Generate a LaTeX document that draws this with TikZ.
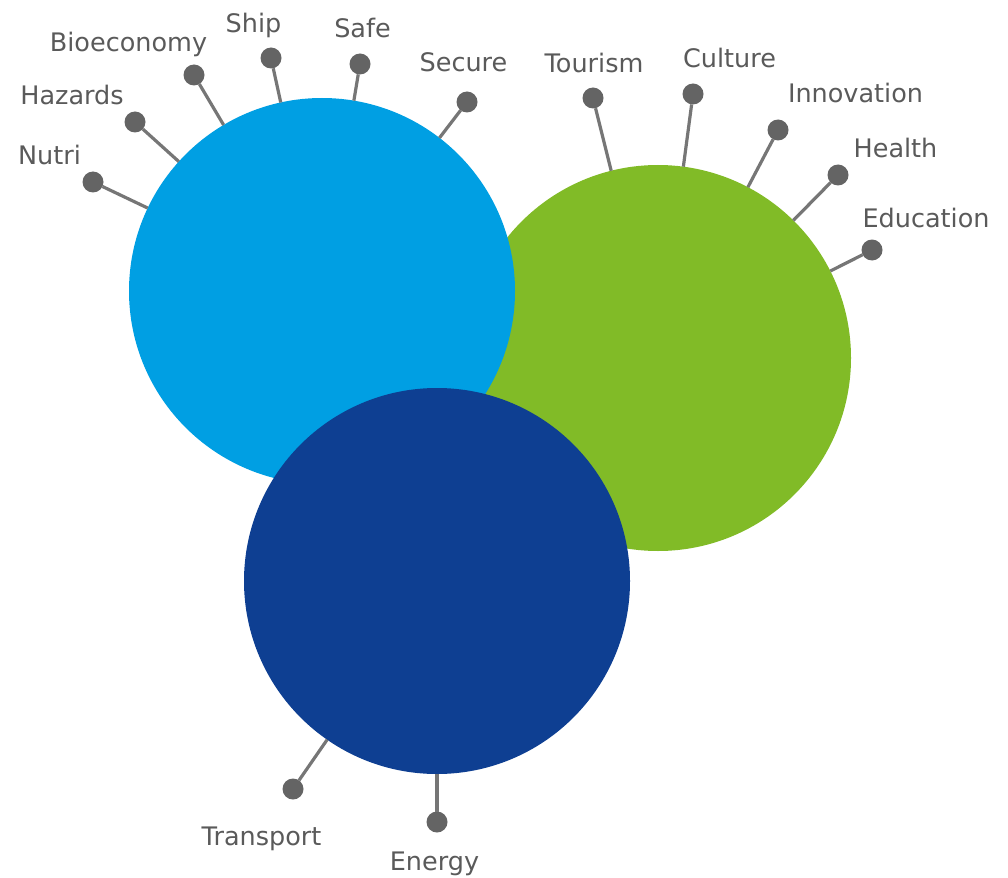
\documentclass[tikz,border=0pt]{standalone}
\usepackage{fontspec}
\setmainfont{DejaVu Sans}
\definecolor{lblue}{RGB}{0,159,227}
\definecolor{lgreen}{RGB}{129,187,39}
\definecolor{dblue}{RGB}{14,63,146}
\definecolor{pingray}{RGB}{100,100,100}
\definecolor{linegray}{RGB}{118,118,118}
\definecolor{txtgray}{RGB}{90,90,90}
\begin{document}
\begin{tikzpicture}[x=1pt,y=-1pt,
  bigcirc/.style={circle,inner sep=0pt,outer sep=0pt,minimum size=386pt,draw=none},
  pin/.style={circle,inner sep=0pt,outer sep=0pt,minimum size=21pt,fill=pingray},
  stem/.style={draw=linegray,line width=3.2pt},
  lbl/.style={anchor=base,inner sep=0pt,text=txtgray,font=\fontsize{25.5}{30}\selectfont}]
\useasboundingbox (0,0) rectangle (1008,877);
% circles
\node[bigcirc,fill=lgreen] (B) at (658,358) {};
\node[bigcirc,fill=lblue] (A) at (322,291) {};
\node[bigcirc,fill=dblue] (C) at (437,581) {};
% pins of A
\node[pin] (pNutri) at (93,182) {};
\node[pin] (pHaz) at (135,122) {};
\node[pin] (pBio) at (194,75) {};
\node[pin] (pShip) at (271,58) {};
\node[pin] (pSafe) at (360,64) {};
\node[pin] (pSec) at (467,102) {};
% pins of B
\node[pin] (pTour) at (593,98) {};
\node[pin] (pCult) at (693,94) {};
\node[pin] (pInno) at (778,130) {};
\node[pin] (pHeal) at (838,175) {};
\node[pin] (pEdu) at (872,250) {};
% pins of C
\node[pin] (pTrans) at (293,789) {};
\node[pin] (pEner) at (437,822) {};
% stems
\foreach \p in {pNutri,pHaz,pBio,pShip,pSafe,pSec} \draw[stem] (\p) -- (A);
\foreach \p in {pTour,pCult,pInno,pHeal,pEdu} \draw[stem] (\p) -- (B);
\foreach \p in {pTrans,pEner} \draw[stem] (\p) -- (C);
% labels
\node[lbl] (tNutri) at (49.5,165) {Nutri};
\node[lbl] (tHaz) at (72,105) {Hazards};
\node[lbl] (tBio) at (128.5,52) {Bioeconomy};
\node[lbl] (tShip) at (253.5,33) {Ship};
\node[lbl] (tSafe) at (362.5,38) {Safe};
\node[lbl] (tSec) at (463.5,72) {Secure};
\node[lbl] (tTour) at (594,73) {Tourism};
\node[lbl] (tCult) at (729.5,68) {Culture};
\node[lbl] (tInno) at (855.5,103) {Innovation};
\node[lbl] (tHeal) at (895.5,158) {Health};
\node[lbl] (tEdu) at (926,228) {Education};
\node[lbl] (tTrans) at (261.5,845) {Transport};
\node[lbl] (tEner) at (434.5,870) {Energy};
\end{tikzpicture}
\end{document}
